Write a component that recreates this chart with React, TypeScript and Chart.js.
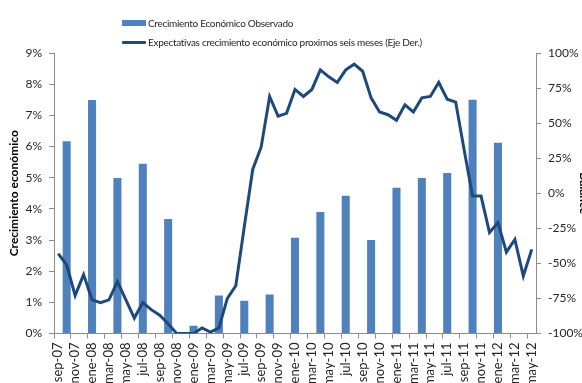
import React, { useEffect, useRef } from "react";
import { Chart, registerables } from "chart.js";

Chart.register(...registerables);

const months = [
  "sep-07", "oct-07", "nov-07", "dic-07",
  "ene-08", "feb-08", "mar-08", "abr-08", "may-08", "jun-08", "jul-08", "ago-08", "sep-08", "oct-08", "nov-08", "dic-08",
  "ene-09", "feb-09", "mar-09", "abr-09", "may-09", "jun-09", "jul-09", "ago-09", "sep-09", "oct-09", "nov-09", "dic-09",
  "ene-10", "feb-10", "mar-10", "abr-10", "may-10", "jun-10", "jul-10", "ago-10", "sep-10", "oct-10", "nov-10", "dic-10",
  "ene-11", "feb-11", "mar-11", "abr-11", "may-11", "jun-11", "jul-11", "ago-11", "sep-11", "oct-11", "nov-11", "dic-11",
  "ene-12", "feb-12", "mar-12", "abr-12", "may-12",
];

// Crecimiento Económico Observado (%), quarterly, left axis
const crecimientoObservado: (number | null)[] = [
  null, 6.17, null, null,
  7.49, null, null, 4.99, null, null, 5.45, null, null, 3.67, null, null,
  0.25, null, null, 1.22, null, null, 1.05, null, null, 1.25, null, null,
  3.07, null, null, 3.9, null, null, 4.42, null, null, 3.0, null, null,
  4.68, null, null, 4.99, null, null, 5.15, null, null, 7.5, null, null,
  6.12, null, null, null, null,
];

// Expectativas crecimiento económico próximos seis meses (balance %, right axis)
const expectativas: number[] = [
  -43, -51, -73, -58,
  -76, -78, -76, -63, -76, -89, -78, -83, -87, -93, -100, -100,
  -100, -96, -99, -96, -75, -66, -24, 17, 33, 69, 55, 57,
  74, 69, 74, 88, 83, 79, 88, 92, 87, 68, 58, 56,
  52, 63, 58, 68, 69, 79, 67, 65, 31, -2, -2, -28,
  -21, -42, -33, -59, -40,
];

const leftTicksMax = 9;
const rightTicksMin = -100;
const rightTicksMax = 100;

const legendLabels = [
  "Crecimiento Económico Observado",
  "Expectativas crecimiento económico proximos seis meses (Eje Der.)",
];

const BAR_COLOR = "#4F81BD";
const LINE_COLOR = "#1F497D";
const AXIS_COLOR = "#8C8C8C";
const TEXT_COLOR = "#262626";
const FONT = "Lato";

export default function App() {
  const ref = useRef<HTMLCanvasElement | null>(null);

  useEffect(() => {
    const canvas = ref.current;
    if (!canvas) return;
    const chart = new Chart(canvas, {
      type: "bar",
      data: {
        labels: months,
        datasets: [
          {
            type: "line",
            label: legendLabels[1],
            data: expectativas,
            yAxisID: "y1",
            borderColor: LINE_COLOR,
            backgroundColor: LINE_COLOR,
            borderWidth: 3,
            pointRadius: 0,
            tension: 0,
            order: 1,
          } as any,
          {
            type: "bar",
            label: legendLabels[0],
            data: crecimientoObservado,
            yAxisID: "y",
            backgroundColor: BAR_COLOR,
            categoryPercentage: 1,
            barPercentage: 0.95,
            order: 2,
          } as any,
        ],
      },
      options: {
        responsive: false,
        animation: false,
        devicePixelRatio: 1,
        layout: { padding: { top: 53, left: 0, right: 0, bottom: 0 } },
        plugins: {
          legend: { display: false },
          tooltip: { enabled: false },
          title: { display: false },
        },
        scales: {
          x: {
            offset: true,
            grid: {
              display: true,
              offset: true,
              drawOnChartArea: false,
              drawTicks: true,
              tickLength: 5,
              color: AXIS_COLOR,
              tickColor: (ctx: any) => (ctx.index % 2 === 0 ? AXIS_COLOR : "rgba(0,0,0,0)"),
            },
            border: { display: true, color: AXIS_COLOR, width: 1 },
            ticks: {
              autoSkip: false,
              maxRotation: 90,
              minRotation: 90,
              padding: 4,
              color: TEXT_COLOR,
              font: { family: FONT, size: 13 },
              callback: (_v: any, i: number) => (i % 2 === 0 ? months[i] : ""),
            },
            afterFit: (scale: any) => {
              scale.height = 49.5;
            },
          },
          y: {
            position: "left",
            min: 0,
            max: leftTicksMax,
            grid: {
              display: true,
              drawOnChartArea: false,
              drawTicks: true,
              tickLength: 5,
              color: AXIS_COLOR,
            },
            border: { display: true, color: AXIS_COLOR, width: 1 },
            ticks: {
              stepSize: 1,
              padding: 7,
              color: TEXT_COLOR,
              font: { family: FONT, size: 12 },
              callback: (v: any) => `${v}%`,
            },
            title: {
              display: true,
              text: "Crecimiento económico",
              color: "#000",
              font: { family: FONT, size: 12, weight: "bold" },
              padding: { top: 7, bottom: 0 },
            },
            afterFit: (scale: any) => {
              scale.width = 54;
            },
          },
          y1: {
            position: "right",
            min: rightTicksMin,
            max: rightTicksMax,
            grid: {
              display: true,
              drawOnChartArea: false,
              drawTicks: true,
              tickLength: 5,
              color: AXIS_COLOR,
            },
            border: { display: true, color: AXIS_COLOR, width: 1 },
            ticks: {
              stepSize: 25,
              padding: 7,
              color: TEXT_COLOR,
              font: { family: FONT, size: 12 },
              callback: (v: any) => `${v}%`,
            },
            title: {
              display: true,
              text: "Balance",
              color: "#000",
              font: { family: FONT, size: 12, weight: "bold" },
              padding: { top: 3, bottom: 0 },
            },
            afterFit: (scale: any) => {
              scale.width = 58;
            },
          },
        },
      } as any,
    });
    return () => chart.destroy();
  }, []);

  return (
    <div
      style={{
        position: "fixed",
        left: 0,
        top: 0,
        width: 582,
        height: 383,
        overflow: "hidden",
        background: "#fff",
      }}
    >
      <canvas ref={ref} width={594} height={383} style={{ width: 594, height: 383, display: "block" }} />
      <div
        style={{
          position: "absolute",
          left: 122,
          top: 14,
          fontFamily: FONT,
          fontSize: 10,
          color: TEXT_COLOR,
          lineHeight: "20px",
          letterSpacing: "-0.3px",
          whiteSpace: "nowrap",
        }}
      >
        <div style={{ display: "flex", alignItems: "center", height: 18 }}>
          <span style={{ display: "inline-block", width: 24, height: 6, background: BAR_COLOR, marginRight: 2 }} />
          <span>{legendLabels[0]}</span>
        </div>
        <div style={{ display: "flex", alignItems: "center", height: 20 }}>
          <span style={{ display: "inline-block", width: 24, height: 3, background: LINE_COLOR, marginRight: 2, borderRadius: 1 }} />
          <span>{legendLabels[1]}</span>
        </div>
      </div>
    </div>
  );
}
